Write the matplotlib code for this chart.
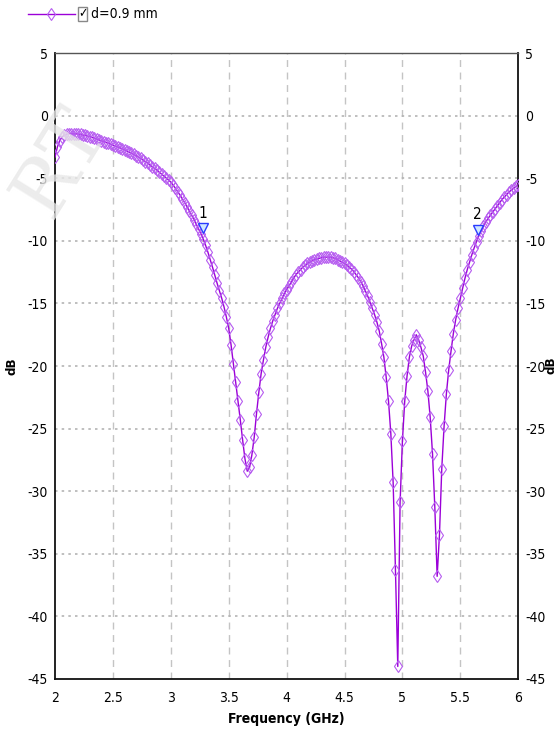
import numpy as np
import matplotlib
matplotlib.use('Agg')
import matplotlib.pyplot as plt
import matplotlib.transforms as mtransforms
from matplotlib.lines import Line2D
from matplotlib.patches import Rectangle

plt.rcParams['font.family'] = ['DejaVu Sans']
plt.rcParams['font.stretch'] = 'condensed'
plt.rcParams['axes.unicode_minus'] = False

# sweep 2..6 GHz, 0.02 GHz step
freq = np.linspace(2.0, 6.0, 201)

# S11 (dB), 10 points per line = 0.2 GHz
s11_db = [
    -3.3, -2.5, -2.0, -1.7, -1.55, -1.48, -1.45, -1.44, -1.44, -1.45,      # 2.00
    -1.47, -1.5, -1.54, -1.58, -1.63, -1.68, -1.74, -1.8, -1.86, -1.93,    # 2.20
    -2.0, -2.07, -2.14, -2.21, -2.28, -2.35, -2.42, -2.49, -2.56, -2.64,   # 2.40
    -2.72, -2.81, -2.9, -2.99, -3.09, -3.19, -3.3, -3.41, -3.53, -3.66,    # 2.60
    -3.79, -3.93, -4.07, -4.21, -4.36, -4.51, -4.66, -4.82, -4.98, -5.14,  # 2.80
    -5.3, -5.55, -5.8, -6.07, -6.35, -6.65, -6.95, -7.27, -7.6, -7.95,     # 3.00
    -8.3, -8.67, -9.05, -9.45, -9.85, -10.35, -10.9, -11.5, -12.1, -12.75, # 3.20
    -13.4, -14.0, -14.6, -15.3, -16.1, -17.0, -18.3, -19.8, -21.3, -22.8,  # 3.40
    -24.3, -25.9, -27.4, -28.4, -28.1, -27.1, -25.7, -23.8, -22.1, -20.6,  # 3.60
    -19.5, -18.5, -17.7, -17.0, -16.4, -15.9, -15.4, -15.0, -14.6, -14.2,  # 3.80
    -13.9, -13.6, -13.3, -13.0, -12.7, -12.5, -12.3, -12.1, -11.95, -11.8, # 4.00
    -11.7, -11.6, -11.5, -11.45, -11.4, -11.35, -11.3, -11.3, -11.3, -11.3, # 4.20
    -11.35, -11.4, -11.5, -11.6, -11.7, -11.8, -11.95, -12.1, -12.25, -12.45, # 4.40
    -12.7, -12.95, -13.25, -13.6, -14.0, -14.4, -14.9, -15.4, -15.9, -16.5, # 4.60
    -17.2, -18.2, -19.3, -20.9, -22.8, -25.4, -29.3, -36.3, -44.0, -30.9,  # 4.80
    -26.0, -22.8, -20.8, -19.3, -18.4, -17.9, -17.5, -17.9, -18.5, -19.2,  # 5.00
    -20.5, -22.0, -24.1, -27.0, -31.3, -36.8, -33.5, -28.2, -24.8, -22.2,  # 5.20
    -20.3, -18.8, -17.4, -16.3, -15.4, -14.6, -13.8, -13.0, -12.3, -11.7,  # 5.40
    -11.1, -10.55, -10.05, -9.6, -9.2, -8.85, -8.5, -8.2, -7.95, -7.7,     # 5.60
    -7.45, -7.2, -6.95, -6.7, -6.5, -6.3, -6.1, -5.95, -5.8, -5.65,        # 5.80
    -5.5,                                                                  # 6.00
]

# data markers 1 and 2
mk_labels = ['1', '2']
mk_freq = [3.28, 5.65]
mk_db = [-9.5, -9.6]

xticks = [2, 2.5, 3, 3.5, 4, 4.5, 5, 5.5, 6]
xtick_labels = ['2', '2.5', '3', '3.5', '4', '4.5', '5', '5.5', '6']
yticks = [5, 0, -5, -10, -15, -20, -25, -30, -35, -40, -45]

line_col = '#9b00d8'
mark_col = '#b65cf0'

fig = plt.figure(figsize=(5.56, 7.38), dpi=100)
ax = fig.add_axes([0.099, 0.080, 0.833, 0.848])
ax.set_facecolor('none')

ax.plot(freq, s11_db, color=line_col, lw=1.0, marker='d', ms=6.5,
        mfc='none', mec=mark_col, mew=0.8, zorder=3)

# markers: triangle tip sits on the curve
lift = mtransforms.ScaledTranslation(0, 4.5 / 72, fig.dpi_scale_trans)
for lab, f, d in zip(mk_labels, mk_freq, mk_db):
    ax.plot([f], [d], marker='v', ms=7, mfc='#cfe8ff', mec='#2a3cff', mew=1.0,
            transform=ax.transData + lift, zorder=4)
    ax.text(f, d, lab, ha='center', va='bottom', fontsize=11,
            transform=ax.transData + mtransforms.ScaledTranslation(0, 10 / 72, fig.dpi_scale_trans),
            zorder=4)

ax.set_xlim(2, 6)
ax.set_ylim(-45, 5)
ax.set_xticks(xticks)
ax.set_xticklabels(xtick_labels)
ax.set_yticks(yticks)
ax.tick_params(length=0, labelsize=10, pad=5)
ax.tick_params(axis='x', pad=9)
ax.tick_params(axis='y', labelright=True, right=False)

for x in xticks[1:-1]:
    ax.axvline(x, color='#c4c4c4', lw=1.0, ls=(0, (5, 4)), zorder=1)
for y in yticks[1:-1]:
    ax.axhline(y, color='#b4b4b4', lw=1.2, ls=(0, (1.5, 2.5)), zorder=1)

for side in ['left', 'bottom', 'right']:
    ax.spines[side].set_color('#111111')
    ax.spines[side].set_linewidth(1.3)
ax.spines['top'].set_color('#555555')
ax.spines['top'].set_linewidth(1.0)

ax.set_xlabel('Frequency (GHz)', fontsize=10, fontweight='bold', labelpad=5)
ax.set_ylabel('dB', fontsize=9.5, fontweight='bold')
ax.yaxis.set_label_coords(-0.078, 0.5)
fig.text(0.991, 0.505, 'dB', rotation=90, ha='center', va='center',
         fontsize=9.5, fontweight='bold')

# legend row at the top
fig.add_artist(Line2D([0.05, 0.135], [0.981, 0.981], transform=fig.transFigure,
                      color=line_col, lw=1.0))
fig.add_artist(Line2D([0.0925], [0.981], transform=fig.transFigure,
                      marker='d', ms=6.5, mfc='none', mec=mark_col, mew=0.8))
fig.add_artist(Rectangle((0.140, 0.972), 0.017, 0.019, transform=fig.transFigure,
                         fill=False, ec='#888888', lw=1.0))
fig.text(0.1485, 0.981, '\u2713', ha='center', va='center', fontsize=9,
         fontweight='bold')
fig.text(0.163, 0.981, 'd=0.9 mm', ha='left', va='center', fontsize=10)

# faded watermark at top left
fig.text(0.0, 0.78, 'RT', rotation=58, fontsize=56, color='#e8e8e8',
         alpha=0.8, ha='left', va='center', family=['DejaVu Serif'],
         fontstretch='normal', zorder=0)

fig.savefig('out.png', dpi=100)
